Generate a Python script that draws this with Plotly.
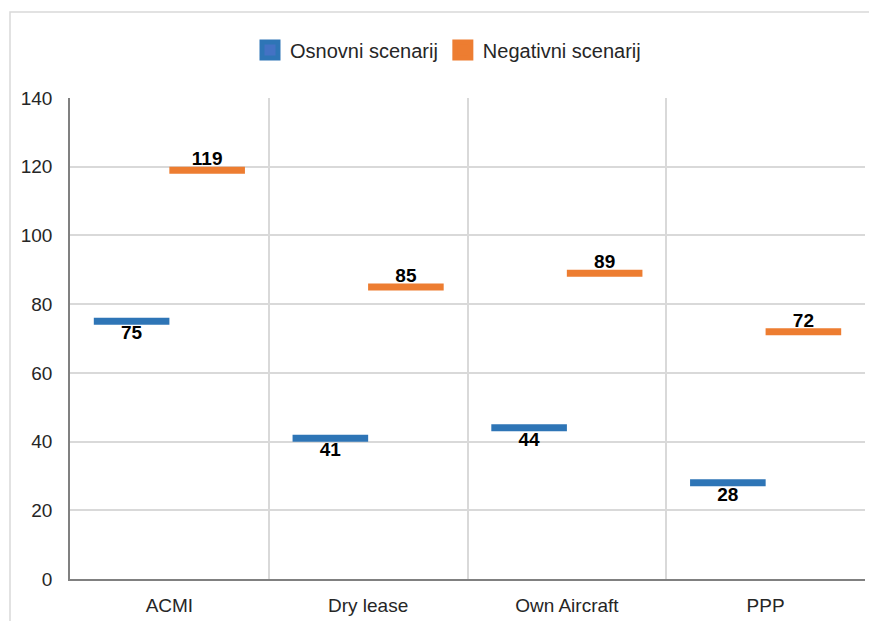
import plotly.graph_objects as go

# Scenario values per financing model
categories = ["ACMI", "Dry lease", "Own Aircraft", "PPP"]
osnovni = [75, 41, 44, 28]
negativni = [119, 85, 89, 72]
series_names = ["Osnovni scenarij", "Negativni scenarij"]
y_ticks = [0, 20, 40, 60, 80, 100, 120, 140]

BLUE = "#2E75B6"
BLUE_INNER = "#4472C4"
ORANGE = "#ED7D31"
FONT = "Liberation Sans, Arial, sans-serif"

W, H = 869, 621
M_L, M_R, M_T, M_B = 70, 4, 98, 42
PW = W - M_L - M_R
PH = H - M_T - M_B

fig = go.Figure()

series = [
    (series_names[0], osnovni, BLUE, BLUE_INNER, "bottom center", "g1", 4),
    (series_names[1], negativni, ORANGE, ORANGE, "top center", "g2", 0),
]

for name, vals, col, inner, tpos, grp, pad in series:
    # horizontal dash at each value
    fig.add_trace(go.Scatter(
        x=categories, y=vals, mode="markers", name=name,
        offsetgroup=grp, showlegend=False, hoverinfo="skip",
        marker=dict(symbol="line-ew", size=54,
                    line=dict(color=col, width=7)),
    ))
    # value label next to the dash (an invisible marker sets the gap)
    fig.add_trace(go.Scatter(
        x=categories, y=vals, mode="markers+text" if pad else "text",
        name=name, offsetgroup=grp, showlegend=False, hoverinfo="skip",
        marker=dict(size=max(pad, 1), opacity=0),
        text=[str(v) for v in vals], textposition=tpos,
        textfont=dict(family=FONT, size=19, color="#000000", weight="bold"),
    ))
    # square legend entry
    fig.add_trace(go.Scatter(
        x=[None], y=[None], mode="markers", name=name,
        offsetgroup=grp, showlegend=True,
        marker=dict(symbol="square", size=16, color=inner,
                    line=dict(color=col, width=5)),
    ))

# outer chart frame
fig.add_shape(
    type="rect", xref="paper", yref="paper",
    x0=(10 - M_L) / PW, x1=(W + 6 - M_L) / PW,
    y0=-(M_B + 10) / PH, y1=(H - M_B - 12) / PH,
    line=dict(color="#D9D9D9", width=1.5), fillcolor="rgba(0,0,0,0)",
    layer="below",
)

fig.update_layout(
    width=W, height=H,
    margin=dict(l=M_L, r=M_R, t=M_T, b=M_B, autoexpand=False),
    paper_bgcolor="white", plot_bgcolor="white",
    scattermode="group", scattergap=0.24,
    font=dict(family=FONT, size=19, color="#262626"),
    showlegend=True,
    legend=dict(
        orientation="h", x=(448 - M_L) / PW, xanchor="center",
        y=(H - M_B - 50) / PH, yanchor="middle",
        font=dict(family=FONT, size=20, color="#262626"),
        itemclick=False, itemdoubleclick=False,
        bgcolor="rgba(0,0,0,0)",
    ),
    xaxis=dict(
        type="category", categoryorder="array", categoryarray=categories,
        tickson="boundaries", ticks="", showgrid=True,
        gridcolor="#D9D9D9", gridwidth=1.5,
        showline=True, linecolor="#808080", linewidth=1.5,
        ticklabelstandoff=8, range=[-0.5, 3.5], automargin=False,
        tickfont=dict(family=FONT, size=19, color="#262626"),
    ),
    yaxis=dict(
        range=[0, 140], tickvals=y_ticks, ticks="",
        showgrid=True, gridcolor="#D9D9D9", gridwidth=1.5,
        showline=True, linecolor="#808080", linewidth=1.5,
        zeroline=False, ticklabelstandoff=12, automargin=False,
        tickfont=dict(family=FONT, size=19, color="#262626"),
    ),
)

fig.write_html("out.html")
